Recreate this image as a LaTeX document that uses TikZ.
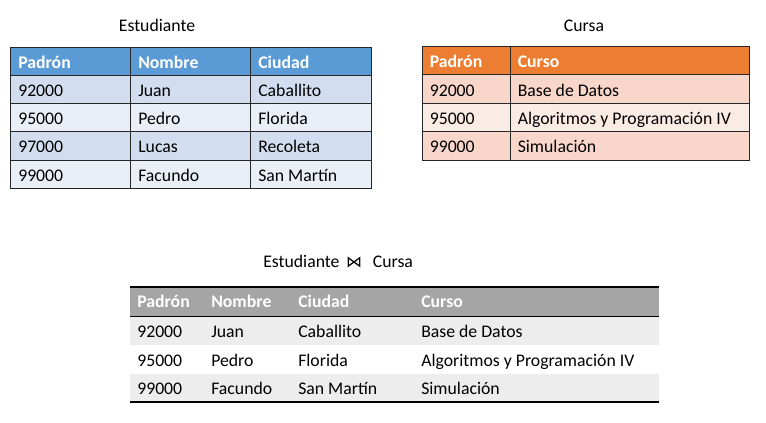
\documentclass[tikz,border=0pt]{standalone}
\usepackage{fontspec}
\setmainfont{Carlito}
\newfontfamily\symfont{DejaVu Sans}

\definecolor{estHead}{HTML}{5B9BD5}
\definecolor{estDark}{HTML}{D2DEEF}
\definecolor{estLight}{HTML}{EAEFF7}
\definecolor{curHead}{HTML}{ED7D31}
\definecolor{curDark}{HTML}{F8D6C9}
\definecolor{curLight}{HTML}{FBEBE5}
\definecolor{joinHead}{HTML}{A5A5A5}
\definecolor{joinBand}{HTML}{EDEDED}

\tikzset{
	txt/.style={inner sep=0pt, font=\fontsize{13.3}{15}\selectfont},
	cell/.style={txt, anchor=base west},
	head/.style={cell, text=white, font=\fontsize{13.3}{15}\selectfont\bfseries},
	title/.style={txt, anchor=base},
	grid/.style={draw=black!85, line width=0.75pt},
	rule/.style={draw=black, line width=1.5pt},
}

\begin{document}
\begin{tikzpicture}[x=0.75pt, y=-0.75pt]
	\useasboundingbox (0,0) rectangle (766,422);

	% Estudiante
	\node[title] (est) at (157,31) {Estudiante};
	\fill[estHead] (10,47) rectangle (371,75);
	\foreach \ya/\yb/\c in {75/103/estDark, 103/131/estLight, 131/160/estDark, 160/188/estLight}
		\fill[\c] (10,\ya) rectangle (371,\yb);
	\foreach \y in {75,103,131,160}
		\draw[grid] (10,\y) -- (371,\y);
	\foreach \x in {130,250}
		\draw[grid] (\x,47) -- (\x,188);
	\draw[grid] (10,47) rectangle (371,188);
	\node[head] (est-h1) at (18,68) {Padrón};
	\node[head] (est-h2) at (138,68) {Nombre};
	\node[head] (est-h3) at (258,68) {Ciudad};
	\foreach \n/\y/\a/\b/\c in {1/96.5/92000/Juan/Caballito, 2/124.5/95000/Pedro/Florida, 3/152.5/97000/Lucas/Recoleta, 4/181/99000/Facundo/San Martín}{
		\node[cell] (est-\n-1) at (18,\y) {\a};
		\node[cell] (est-\n-2) at (138,\y) {\b};
		\node[cell] (est-\n-3) at (258,\y) {\c};
	}

	% Cursa
	\node[title] (cur) at (584,31) {Cursa};
	\fill[curHead] (422,46) rectangle (749,74);
	\foreach \ya/\yb/\c in {74/103/curDark, 103/131/curLight, 131/160/curDark}
		\fill[\c] (422,\ya) rectangle (749,\yb);
	\foreach \y in {74,103,131}
		\draw[grid] (422,\y) -- (749,\y);
	\draw[grid] (510,46) -- (510,160);
	\draw[grid] (422,46) rectangle (749,160);
	\node[head] (cur-h1) at (429.5,67) {Padrón};
	\node[head] (cur-h2) at (517.5,67) {Curso};
	\foreach \n/\y/\a/\b in {1/96/92000/Base de Datos, 2/124.5/95000/Algoritmos y Programación IV, 3/152.5/99000/Simulación}{
		\node[cell] (cur-\n-1) at (429.5,\y) {\a};
		\node[cell] (cur-\n-2) at (517.5,\y) {\b};
	}

	% Estudiante join Cursa
	\node[cell] (join) at (263,267) {Estudiante\hspace{5pt}{\symfont\fontsize{12}{14}\selectfont ⋈}\hspace{8pt}Cursa};
	\fill[joinHead] (130,287) rectangle (659,316.5);
	\fill[joinBand] (130,316.5) rectangle (659,345);
	\fill[joinBand] (130,374) rectangle (659,402);
	\draw[rule] (130,287) -- (659,287);
	\draw[grid, line width=1.1pt, draw=black] (130,316.5) -- (659,316.5);
	\draw[rule] (130,402) -- (659,402);
	\node[head] (join-h1) at (137,307.5) {Padrón};
	\node[head] (join-h2) at (211,307.5) {Nombre};
	\node[head] (join-h3) at (298,307.5) {Ciudad};
	\node[head] (join-h4) at (421,307.5) {Curso};
	\foreach \n/\y/\a/\b/\c/\d in {1/337/92000/Juan/Caballito/Base de Datos, 2/366/95000/Pedro/Florida/Algoritmos y Programación IV, 3/394.5/99000/Facundo/San Martín/Simulación}{
		\node[cell] (join-\n-1) at (137,\y) {\a};
		\node[cell] (join-\n-2) at (211,\y) {\b};
		\node[cell] (join-\n-3) at (298,\y) {\c};
		\node[cell] (join-\n-4) at (421,\y) {\d};
	}
\end{tikzpicture}
\end{document}
